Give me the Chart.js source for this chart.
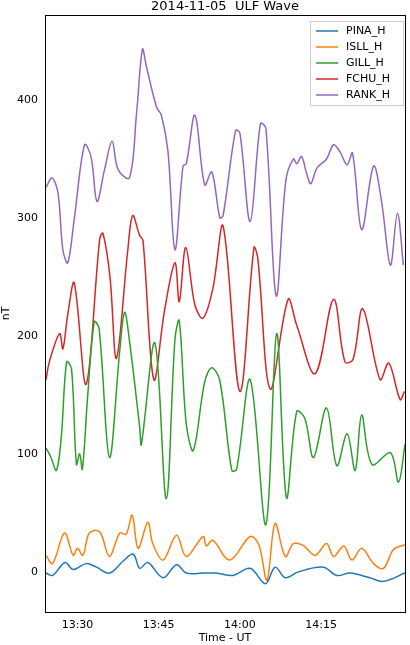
<!DOCTYPE html>
<html>
<head>
<meta charset="utf-8">
<script src="https://cdn.jsdelivr.net/npm/chart.js@4.4.1/dist/chart.umd.min.js"></script>
<style>body{margin:0;background:#fff}</style>
</head>
<body>
<canvas id="ulf" width="410" height="645"></canvas>
<script>
// minutes after 13:00 UT
var pinaT = [24.2,25.4,27.7,29.2,31.6,33.5,35.9,38.4,40.3,41.5,43,45.8,48.3,50.1,53.2,55.6,58.7,61.9,64.7,66.5,68.4,70.8,75.4,77.9,80.4,84,86.5,90.5];
var pinaV = [-1,-3,8,2,7,4,-1,9,15,3,8,-5,6,-1,-1,-1,-3,3,-10,4,-5,0,4,-3,-1,-5,-8,-1];

var isllT = [24.2,25.4,27.6,29.2,30,31,32.2,34.1,35.9,37.8,39,40.1,41.2,43,43.9,45.8,48.3,50.1,53.2,53.8,55,58.1,61.9,63.5,65,66.5,68.4,69.9,71.8,73.9,76,77.3,79.2,80.7,82.5,84.7,86.5,88.4,90.5];
var isllV = [14,7,33,14,20,14,33,34,13,33,32,48,20,42,24,10,31,13,30,22,27,10,30,23,-7,41,13,24,22,14,24,13,22,10,20,7,3,19,23];

var gillT = [24.2,25.1,26.1,27,28,28.9,29.8,30.4,30.9,31.9,33.1,34,35.9,37.8,38.7,39.6,41.5,41.8,44.3,46.4,48,48.8,50.1,51.4,53.5,54.8,56.3,58.5,59.4,61.9,64.8,66.8,68.6,70.5,72,73.6,76,77.9,79.8,81.3,82.5,84.4,87.8,89.3,90.5];
var gillV = [105,97,86,114,178,172,91,100,87,150,212,206,97,187,220,196,122,108,194,62,197,213,125,103,161,173,162,86,87,163,40,202,63,136,130,97,139,90,117,86,133,91,101,76,108];

var fchuT = [24.2,24.8,26.7,27.3,28.2,29.4,31.6,34.1,34.7,36,37.2,39.3,40.2,41.5,42.1,44.1,46.1,48,48.8,50,51.7,53.2,55,56.9,60,62.6,63.3,65.6,68.9,70.5,73.9,77.3,79.4,80.9,82.7,85.9,87.5,89.6,90.4];
var fchuV = [163,178,202,189,218,245,159,282,287,250,181,273,302,285,281,163,222,262,229,275,226,215,240,293,153,275,266,155,231,209,168,231,178,180,223,163,177,146,153];

var rankT = [24.2,25.3,26.4,27.3,28.2,29.4,31.3,32.5,33.6,35,36.4,37.5,39.6,40.9,42,42.7,44.6,45.5,46.7,48,49.5,50.1,51.7,53.5,54.8,56.3,56.9,59.2,60,61.9,63.8,64.8,66.7,68.5,69.9,70.5,71.4,72.3,73.1,74.2,76,77.3,78.5,79.8,80.8,82.5,84.7,86.2,87.8,89.1,90.2];
var rankV = [326,334,321,273,262,299,362,352,314,341,365,341,334,388,443,429,394,387,357,273,344,346,387,328,339,300,302,374,372,297,380,376,234,332,350,346,352,338,329,342,350,362,356,345,355,290,344,313,260,304,260];

var names = ['PINA_H','ISLL_H','GILL_H','FCHU_H','RANK_H'];
var colors = ['#1f77b4','#ff7f0e','#2ca02c','#d62728','#9467bd'];
var tickMinutes = [30,45,60,75];
var tickLabels = ['13:30','13:45','14:00','14:15'];

function pts(t, v) {
    return t.map(function (x, i) { return { x: x, y: v[i] }; });
}
var series = [pts(pinaT, pinaV), pts(isllT, isllV), pts(gillT, gillV), pts(fchuT, fchuV), pts(rankT, rankV)];

var frame = {
    id: 'frame',
    afterDraw: function (chart) {
        var c = chart.ctx, a = chart.chartArea;
        c.save();
        c.strokeStyle = '#000';
        c.lineWidth = 1;
        c.strokeRect(a.left + 0.5, a.top + 0.5, a.right - a.left, a.bottom - a.top);
        c.fillStyle = '#000';
        c.font = '13px "DejaVu Sans"';
        c.textAlign = 'center';
        c.textBaseline = 'bottom';
        c.fillText('2014-11-05  ULF Wave', (a.left + a.right) / 2, a.top - 2);
        // legend
        var lx = 310, ly = 21, w = 93, h = 84;
        c.fillStyle = 'rgba(255,255,255,0.8)';
        c.strokeStyle = '#ccc';
        c.fillRect(lx, ly, w, h);
        c.strokeRect(lx + 0.5, ly + 0.5, w, h);
        c.font = '11px "DejaVu Sans"';
        c.textAlign = 'left';
        c.textBaseline = 'middle';
        chart.data.datasets.forEach(function (d, i) {
            var yy = ly + 10 + i * 16;
            c.strokeStyle = d.borderColor;
            c.lineWidth = 1.5;
            c.beginPath();
            c.moveTo(lx + 6, yy);
            c.lineTo(lx + 28, yy);
            c.stroke();
            c.fillStyle = '#000';
            c.fillText(d.label, lx + 36, yy);
        });
        c.restore();
    }
};

new Chart(document.getElementById('ulf').getContext('2d'), {
    type: 'line',
    data: {
        datasets: series.map(function (s, i) {
            return { label: names[i], data: s, borderColor: colors[i], backgroundColor: colors[i],
                     borderWidth: 1.5, pointRadius: 0, tension: 0.35, fill: false };
        })
    },
    options: {
        responsive: false,
        animation: false,
        layout: { padding: { top: 15, right: 5 } },
        plugins: { legend: { display: false }, title: { display: false }, tooltip: { enabled: false } },
        scales: {
            x: {
                type: 'linear', min: 24, max: 90.5,
                grid: { display: false, drawTicks: true, tickLength: 4 },
                border: { display: false },
                afterBuildTicks: function (s) { s.ticks = tickMinutes.map(function (v) { return { value: v }; }); },
                ticks: { color: '#000', font: { size: 11, family: 'DejaVu Sans' }, autoSkip: false, maxRotation: 0,
                         callback: function (v) { return tickLabels[tickMinutes.indexOf(v)]; } },
                title: { display: true, text: 'Time - UT', color: '#000', font: { size: 11, family: 'DejaVu Sans' }, padding: 0 },
                afterFit: function (s) { s.height = 33; }
            },
            y: {
                min: -34, max: 472,
                grid: { display: false, drawTicks: true, tickLength: 4 },
                border: { display: false },
                afterBuildTicks: function (s) { s.ticks = [0, 100, 200, 300, 400].map(function (v) { return { value: v }; }); },
                ticks: { color: '#000', font: { size: 11, family: 'DejaVu Sans' } },
                title: { display: true, text: 'nT', color: '#000', font: { size: 11, family: 'DejaVu Sans' }, padding: 0 },
                afterFit: function (s) { s.width = 45; }
            }
        }
    },
    plugins: [frame]
});
</script>
</body>
</html>
